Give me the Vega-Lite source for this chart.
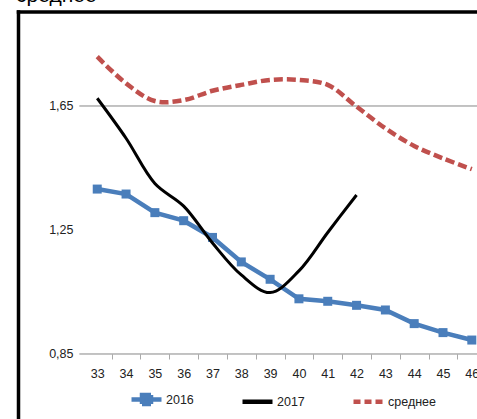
{
  "$schema": "https://vega.github.io/schema/vega-lite/v6.json",
  "width": 459,
  "height": 407.5,
  "autosize": {"type": "none"},
  "padding": {"left": 18, "top": 11.5, "right": 0, "bottom": 0},
  "background": "white",
  "title": {"text": "среднее", "anchor": "start", "frame": "group", "font": "Liberation Sans", "fontSize": 21, "fontWeight": "normal", "baseline": "alphabetic", "offset": 0, "dy": 11, "dx": -2, "color": "black"},
  "config": {
    "view": {"stroke": null},
    "axis": {"labelFont": "Liberation Sans", "labelFontSize": 12.5, "labelColor": "#222222", "grid": false, "title": null, "labelFlush": false, "labelOverlap": false, "labelBound": false}
  },
  "data": {"values": [
    {"week": 33, "series": "2016", "value": 1.382},
    {"week": 34, "series": "2016", "value": 1.366},
    {"week": 35, "series": "2016", "value": 1.306},
    {"week": 36, "series": "2016", "value": 1.280},
    {"week": 37, "series": "2016", "value": 1.226},
    {"week": 38, "series": "2016", "value": 1.147},
    {"week": 39, "series": "2016", "value": 1.091},
    {"week": 40, "series": "2016", "value": 1.028},
    {"week": 41, "series": "2016", "value": 1.020},
    {"week": 42, "series": "2016", "value": 1.007},
    {"week": 43, "series": "2016", "value": 0.992},
    {"week": 44, "series": "2016", "value": 0.948},
    {"week": 45, "series": "2016", "value": 0.919},
    {"week": 46, "series": "2016", "value": 0.895},
    {"week": 33, "series": "2017", "value": 1.675},
    {"week": 34, "series": "2017", "value": 1.546},
    {"week": 35, "series": "2017", "value": 1.400},
    {"week": 36, "series": "2017", "value": 1.327},
    {"week": 37, "series": "2017", "value": 1.208},
    {"week": 38, "series": "2017", "value": 1.105},
    {"week": 39, "series": "2017", "value": 1.048},
    {"week": 40, "series": "2017", "value": 1.118},
    {"week": 41, "series": "2017", "value": 1.242},
    {"week": 42, "series": "2017", "value": 1.363},
    {"week": 33, "series": "среднее", "value": 1.809},
    {"week": 34, "series": "среднее", "value": 1.723},
    {"week": 35, "series": "среднее", "value": 1.666},
    {"week": 36, "series": "среднее", "value": 1.669},
    {"week": 37, "series": "среднее", "value": 1.699},
    {"week": 38, "series": "среднее", "value": 1.718},
    {"week": 39, "series": "среднее", "value": 1.734},
    {"week": 40, "series": "среднее", "value": 1.734},
    {"week": 41, "series": "среднее", "value": 1.718},
    {"week": 42, "series": "среднее", "value": 1.648},
    {"week": 43, "series": "среднее", "value": 1.578},
    {"week": 44, "series": "среднее", "value": 1.521},
    {"week": 45, "series": "среднее", "value": 1.481},
    {"week": 46, "series": "среднее", "value": 1.446}
  ]},
  "resolve": {"axis": {"x": "independent", "y": "independent"}},
  "layer": [
    {
      "data": {"values": [{"line": "axis", "level": 0.85}, {"line": "grid", "level": 1.65}]},
      "mark": {"type": "rule", "color": "#868686", "strokeWidth": 1},
      "encoding": {
        "y": {"field": "level", "type": "quantitative", "scale": {"domain": [0.6403, 1.9548], "nice": false, "zero": false},
              "axis": {"orient": "left", "domainColor": "black", "domainWidth": 3.5, "domainCap": "square", "ticks": false, "labels": false}},
        "x": {"datum": 32.38, "type": "quantitative", "scale": {"domain": [30.25, 46.18], "nice": false, "zero": false},
              "axis": {"orient": "top", "domainColor": "black", "domainWidth": 3.5, "domainCap": "square", "ticks": false, "labels": false}},
        "x2": {"datum": 46.18}
      }
    },
    {
      "transform": [{"filter": "datum.series === '2016'"}],
      "mark": {"type": "line", "strokeWidth": 4.5, "interpolate": "linear", "point": {"shape": "square", "size": 81, "filled": true, "opacity": 1}},
      "encoding": {
        "x": {"field": "week", "type": "quantitative", "scale": {"domain": [30.25, 46.18], "nice": false, "zero": false},
              "axis": {"orient": "bottom", "offset": -65, "values": [33, 34, 35, 36, 37, 38, 39, 40, 41, 42, 43, 44, 45, 46], "ticks": false, "domain": false, "labelPadding": 13}},
        "y": {"field": "value", "type": "quantitative", "scale": {"domain": [0.6403, 1.9548], "nice": false, "zero": false},
              "axis": {"orient": "left", "offset": -61, "values": [0.85, 1.25, 1.65], "ticks": false, "domain": false, "labelPadding": 6, "labelExpr": "replace(format(datum.value, '.2f'), '.', ',')"}},
        "color": {"field": "series", "type": "nominal",
                  "scale": {"domain": ["2016", "2017", "среднее"], "range": ["#4A7EBB", "#000000", "#C0504D"]},
                  "legend": {"orient": "none", "legendX": 111, "legendY": 370.5, "direction": "horizontal", "title": null,
                             "symbolType": "stroke", "symbolSize": 900, "symbolStrokeWidth": 4.5, "gridAlign": "each",
                             "labelFont": "Liberation Sans", "labelFontSize": 12.5, "labelColor": "#222222",
                             "labelOffset": 2, "columnPadding": 39, "padding": 0,
                             "encode": {"symbols": {"update": {
                               "shape": {"signal": "datum.value === '2016' ? 'M-1,0H1M-0.3,-0.3H0.3V0.3H-0.3Z' : 'stroke'"},
                               "fill": {"signal": "datum.value === '2016' ? '#4A7EBB' : 'transparent'"},
                               "strokeDash": {"signal": "datum.value === 'среднее' ? [7, 4] : [1, 0]"}
                             }}}}}
      }
    },
    {
      "transform": [{"filter": "datum.series === '2017'"}],
      "mark": {"type": "line", "strokeWidth": 3, "interpolate": "catmull-rom"},
      "encoding": {
        "x": {"field": "week", "type": "quantitative", "scale": {"domain": [30.25, 46.18], "nice": false, "zero": false},
              "axis": {"orient": "bottom", "offset": -65, "values": [33.5, 34.5, 35.5, 36.5, 37.5, 38.5, 39.5, 40.5, 41.5, 42.5, 43.5, 44.5, 45.5], "labels": false, "domain": false, "ticks": true, "tickSize": 5, "tickColor": "#aaaaaa"}},
        "y": {"field": "value", "type": "quantitative", "scale": {"domain": [0.6403, 1.9548], "nice": false, "zero": false}, "axis": null},
        "color": {"field": "series", "type": "nominal"}
      }
    },
    {
      "transform": [{"filter": "datum.series === 'среднее'"}],
      "mark": {"type": "line", "strokeWidth": 4.5, "interpolate": "catmull-rom", "strokeDash": [9, 4]},
      "encoding": {
        "x": {"field": "week", "type": "quantitative", "scale": {"domain": [30.25, 46.18], "nice": false, "zero": false}, "axis": null},
        "y": {"field": "value", "type": "quantitative", "scale": {"domain": [0.6403, 1.9548], "nice": false, "zero": false}, "axis": null},
        "color": {"field": "series", "type": "nominal"}
      }
    }
  ]
}
